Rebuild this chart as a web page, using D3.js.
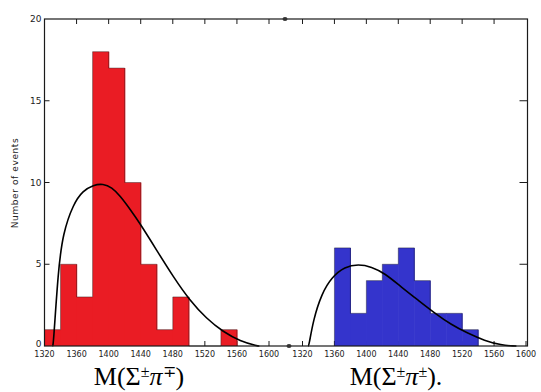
<!DOCTYPE html>
<html lang="en">
<head>
<meta charset="utf-8">
<title>Sigma pi mass</title>
<style>
  body { margin: 0; background: #fff; }
  .tick-label { font-family: "DejaVu Sans", sans-serif; font-size: 8px; fill: #222; }
  .mass-label { font-family: "Liberation Serif", "Times New Roman", serif; font-size: 26px; fill: #000; }
</style>
</head>
<body>
<script src="https://cdn.jsdelivr.net/npm/d3@7"></script>
<script>
// bins are 20 MeV wide, values = number of events
var binStarts = [1320, 1340, 1360, 1380, 1400, 1420, 1440, 1460, 1480, 1500, 1520, 1540];
var countsOpposite = [1, 5, 3, 18, 17, 10, 5, 1, 3, 0, 0, 1];      // M(Σ±π∓)
var binStartsSame = [1360, 1380, 1400, 1420, 1440, 1460, 1480, 1500, 1520];
var countsSame = [6, 2, 4, 5, 6, 4, 2, 2, 1];                        // M(Σ±π±)

// phase-space curves
var curveOppMass = [1330, 1331, 1337, 1343, 1356, 1368, 1381, 1393, 1404, 1414, 1427, 1439, 1460, 1481, 1501, 1522, 1543, 1564, 1586, 1588];
var curveOppVal  = [0, 0, 4.6, 6.9, 8.7, 9.5, 9.85, 9.93, 9.7, 9.2, 8.35, 7.5, 5.85, 4.2, 2.8, 1.68, 0.86, 0.3, 0, 0];
var curveSameMass = [1327, 1328, 1333.5, 1344, 1356.5, 1373, 1390, 1406.5, 1423, 1444, 1465, 1486, 1506.5, 1527, 1548, 1569, 1586, 1588];
var curveSameVal  = [0, 0, 1.6, 3.2, 4.2, 4.85, 5.0, 4.85, 4.45, 3.6, 2.8, 2.0, 1.3, 0.78, 0.33, 0.05, 0, 0];

var massTicks = [1320, 1360, 1400, 1440, 1480, 1520, 1560, 1600];
var countTicks = [0, 5, 10, 15, 20];

var width = 541, height = 392;
var svg = d3.select("body").append("svg")
    .attr("width", width)
    .attr("height", height);

var top_ = 19, bottom = 346, left = 44.5, right = 527.5;

var y = d3.scaleLinear().domain([0, 20]).range([bottom, top_]);
var xL = d3.scaleLinear().domain([1320, 1600]).range([44.5, 269]);
var xR = d3.scaleLinear().domain([1320, 1600]).range([302.5, 526]);

var red = "#ea1c24", blue = "#3434cc", ink = "#1a1a1a";

// bottom ticks (under the bars)
function bottomTicks(x) {
    svg.append("g").selectAll("line").data(massTicks).enter().append("line")
        .attr("x1", function(d){ return x(d); }).attr("x2", function(d){ return x(d); })
        .attr("y1", bottom).attr("y2", bottom - 5)
        .attr("stroke", ink).attr("stroke-width", 1);
}
bottomTicks(xL);
bottomTicks(xR);

// histogram: filled bars + outline
function histogram(starts, counts, x, fill) {
    var g = svg.append("g");
    g.selectAll("rect").data(starts).enter().append("rect")
        .attr("x", function(d){ return x(d); })
        .attr("width", function(d){ return x(d + 20) - x(d) + 0.6; })
        .attr("y", function(d, i){ return y(counts[i]); })
        .attr("height", function(d, i){ return y(0) - y(counts[i]); })
        .attr("fill", fill);
    // step outline
    var pts = [[x(starts[0]), y(0)]];
    starts.forEach(function(d, i) {
        pts.push([x(d), y(counts[i])]);
        pts.push([x(d + 20), y(counts[i])]);
    });
    pts.push([x(starts[starts.length - 1] + 20), y(0)]);
    g.append("path")
        .attr("d", d3.line()(pts))
        .attr("fill", "none")
        .attr("stroke", ink)
        .attr("stroke-width", 0.8)
        .attr("stroke-opacity", 0.5);
}
histogram(binStarts, countsOpposite, xL, red);
histogram(binStartsSame, countsSame, xR, blue);

// curves
function drawCurve(mass, vals, x) {
    var line = d3.line()
        .x(function(d){ return x(d); })
        .y(function(d, i){ return y(vals[i]); })
        .curve(d3.curveBasis);
    svg.append("path")
        .attr("d", line(mass))
        .attr("fill", "none")
        .attr("stroke", "#000")
        .attr("stroke-width", 1.6);
}
drawCurve(curveOppMass, curveOppVal, xL);
drawCurve(curveSameMass, curveSameVal, xR);

// frame
svg.append("rect")
    .attr("x", left).attr("y", top_)
    .attr("width", right - left).attr("height", bottom - top_)
    .attr("fill", "none").attr("stroke", ink).attr("stroke-width", 1.2);

// top ticks
svg.append("g").selectAll("line").data(massTicks.slice(1)).enter().append("line")
    .attr("x1", function(d){ return xL(d); }).attr("x2", function(d){ return xL(d); })
    .attr("y1", top_).attr("y2", top_ + 5)
    .attr("stroke", ink);
svg.append("g").selectAll("line").data(massTicks.slice(0, 7)).enter().append("line")
    .attr("x1", function(d){ return xR(d); }).attr("x2", function(d){ return xR(d); })
    .attr("y1", top_).attr("y2", top_ + 5)
    .attr("stroke", ink);

// left / right y ticks
svg.append("g").selectAll("line").data(countTicks.slice(1, 4)).enter().append("line")
    .attr("x1", left).attr("x2", left + 5)
    .attr("y1", function(d){ return y(d); }).attr("y2", function(d){ return y(d); })
    .attr("stroke", ink);
svg.append("g").selectAll("line").data(countTicks.slice(1, 4)).enter().append("line")
    .attr("x1", right - 8).attr("x2", right)
    .attr("y1", function(d){ return y(d); }).attr("y2", function(d){ return y(d); })
    .attr("stroke", ink);

// axis break marks
svg.append("ellipse").attr("cx", 285).attr("cy", top_).attr("rx", 2.5).attr("ry", 2).attr("fill", "#333");
svg.append("ellipse").attr("cx", 289).attr("cy", bottom).attr("rx", 2.5).attr("ry", 2).attr("fill", "#333");

// y tick labels
svg.append("g").selectAll("text").data(countTicks).enter().append("text")
    .attr("class", "tick-label")
    .attr("x", left - 3)
    .attr("y", function(d){ return d === 0 ? y(d) + 1 : y(d) + 3; })
    .attr("text-anchor", "end")
    .style("font-size", "9px")
    .text(function(d){ return d; });

// x tick labels
function xLabels(x) {
    svg.append("g").selectAll("text").data(massTicks).enter().append("text")
        .attr("class", "tick-label")
        .attr("x", function(d){ return x(d); })
        .attr("y", bottom + 11)
        .attr("text-anchor", "middle")
        .text(function(d){ return d; });
}
xLabels(xL);
xLabels(xR);

// y axis title
svg.append("text")
    .attr("class", "tick-label")
    .attr("transform", "translate(18,183) rotate(-90)")
    .attr("text-anchor", "middle")
    .style("font-size", "9px")
    .style("letter-spacing", "0.6px")
    .text("Number of events");

// mass labels
function massLabel(cx, s1, s2, tail) {
    var t = svg.append("text").attr("class", "mass-label")
        .attr("x", cx).attr("y", 385).attr("text-anchor", "middle");
    t.append("tspan").text("M(Σ");
    t.append("tspan").attr("baseline-shift", "super").style("font-size", "16px").text(s1);
    t.append("tspan").style("font-style", "italic").text("π");
    t.append("tspan").attr("baseline-shift", "super").style("font-size", "16px").text(s2);
    t.append("tspan").text(")" + tail);
}
massLabel(139, "±", "∓", "");
massLabel(396, "±", "±", ".");
</script>
</body>
</html>
